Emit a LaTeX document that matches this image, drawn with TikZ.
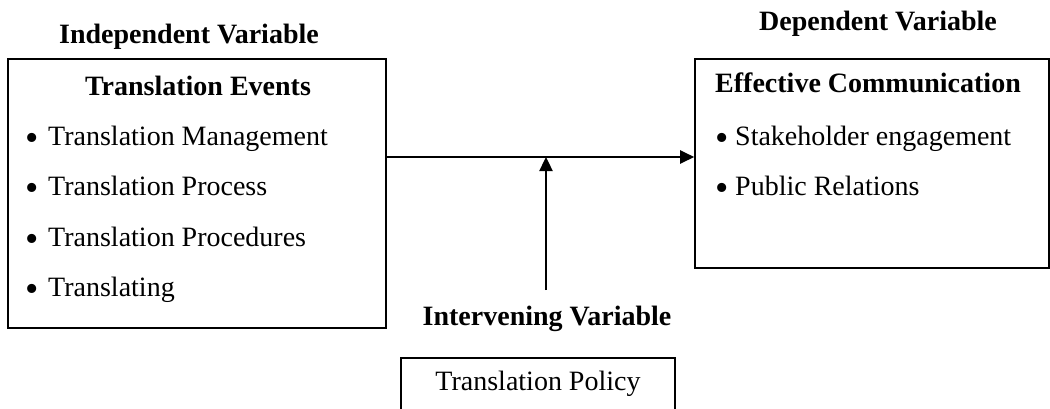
\documentclass[tikz,border=0pt]{standalone}
\usepackage{fontspec}
\setmainfont{Liberation Serif}
\usetikzlibrary{arrows.meta}
\tikzset{
  box/.style={draw=black, line width=1.6pt, inner sep=0pt, fill=none},
  txt/.style={anchor=base west, inner sep=0pt, font=\fontsize{28}{32}\selectfont},
  bul/.style={anchor=center, inner sep=0pt, font=\fontsize{38}{40}\selectfont},
  head/.style={anchor=base, inner sep=0pt, font=\fontsize{28}{32}\selectfont\bfseries},
  conn/.style={line width=2.4pt, -{Triangle[length=14pt,width=13pt]}}
}
\begin{document}
\begin{tikzpicture}[x=1pt,y=-1pt]
\useasboundingbox (0,0) rectangle (1050,408);
% boxes
\node[box, minimum width=378pt, minimum height=269pt] (left) at (197,193.5) {};
\node[box, minimum width=354pt, minimum height=209pt] (right) at (872,163.5) {};
\node[box, minimum width=274pt, minimum height=60pt] (policy) at (538,388) {};
% headings
\node[head] (iv) at (189,43) {Independent Variable};
\node[head] (dv) at (878,30) {Dependent Variable};
\node[head] (inv) at (547,325) {Intervening Variable};
% left box content
\node[head] (te) at (198,95) {Translation Events};
\node[bul] (b1) at (32,142) {•};
\node[bul] (b2) at (32,192) {•};
\node[bul] (b3) at (32,243) {•};
\node[bul] (b4) at (32,293) {•};
\node[txt] (l1) at (48,145) {Translation Management};
\node[txt] (l2) at (48,195) {Translation Process};
\node[txt] (l3) at (48,246) {Translation Procedures};
\node[txt] (l4) at (48,296) {Translating};
% right box content
\node[head, anchor=base west] (ec) at (715,92) {Effective Communication};
\node[bul] (b5) at (722,142) {•};
\node[bul] (b6) at (722,192) {•};
\node[txt] (r1) at (735,145) {Stakeholder engagement};
\node[txt] (r2) at (735,195) {Public Relations};
% policy text
\node[anchor=base, inner sep=0pt, font=\fontsize{28}{32}\selectfont] (tp) at (538,390) {Translation Policy};
% connectors
\coordinate (m) at (546,157);
\coordinate (vs) at (546,290);
\draw[conn] (left.east |- m) -- (right.west |- m);
\draw[conn] (vs) -- (m);
\end{tikzpicture}
\end{document}
